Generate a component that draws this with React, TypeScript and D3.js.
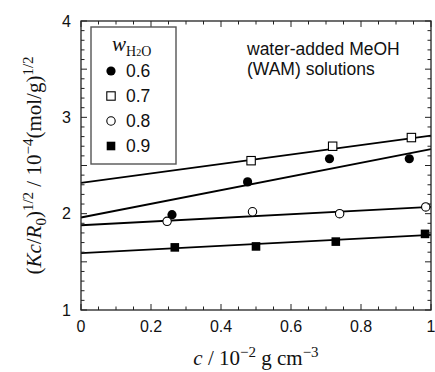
import * as d3 from 'd3'

// (Kc/R0)^1/2 vs c, for each water fraction w_H2O
const seriesNames = ['0.6', '0.7', '0.8', '0.9']
const markerKinds = ['filledCircle', 'openSquare', 'openCircle', 'filledSquare']

const cW06 = [0.26, 0.476, 0.71, 0.938]
const yW06 = [1.99, 2.33, 2.57, 2.57]
const cW07 = [0.486, 0.719, 0.944]
const yW07 = [2.55, 2.70, 2.79]
const cW08 = [0.246, 0.49, 0.739, 0.985]
const yW08 = [1.92, 2.02, 2.0, 2.07]
const cW09 = [0.268, 0.5, 0.728, 0.983]
const yW09 = [1.65, 1.66, 1.71, 1.79]

// fitted straight lines: value at c = 0 and at c = 1
const fitAt0 = [1.96, 2.32, 1.88, 1.59]
const fitAt1 = [2.67, 2.81, 2.07, 1.78]

const xTickLabels = ['0', '0.2', '0.4', '0.6', '0.8', '1']
const yTickLabels = ['1', '2', '3', '4']

const W = 435
const H = 372
const margin = { top: 21, right: 4, bottom: 62, left: 81 }
const innerW = W - margin.left - margin.right
const innerH = H - margin.top - margin.bottom

const SANS = 'Liberation Sans, Arial, sans-serif'
const SERIF = 'Liberation Serif, Times New Roman, serif'

function Marker({ kind, x, y }: { kind: string; x: number; y: number }) {
  if (kind === 'filledCircle') return <circle cx={x} cy={y} r={4.6} fill="#000" />
  if (kind === 'openCircle') return <circle cx={x} cy={y} r={4.2} fill="#fff" stroke="#000" strokeWidth={1.1} />
  if (kind === 'openSquare') return <rect x={x - 4.2} y={y - 4.2} width={8.4} height={8.4} fill="#fff" stroke="#000" strokeWidth={1.1} />
  return <rect x={x - 4.3} y={y - 4.3} width={8.6} height={8.6} fill="#000" />
}

export default function App() {
  const x = d3.scaleLinear().domain([0, 1]).range([0, innerW])
  const y = d3.scaleLinear().domain([1, 4]).range([innerH, 0])

  const xs = [cW06, cW07, cW08, cW09]
  const ys = [yW06, yW07, yW08, yW09]

  const xMinor = x.ticks(20)
  const xMajor = x.ticks(5)
  const yMinor = y.ticks(30)
  const yMajor = y.ticks(3)

  const line = d3.line<[number, number]>()
    .x((d) => x(d[0]))
    .y((d) => y(d[1]))

  const isMajorX = (v: number) => xMajor.some((m) => Math.abs(m - v) < 1e-9)
  const isMajorY = (v: number) => Math.abs(v * 2 - Math.round(v * 2)) < 1e-9

  return (
    <svg width={W} height={H} style={{ position: 'absolute', left: 0, top: 0, background: '#fff' }}>
      <g transform={`translate(${margin.left},${margin.top})`}>
        {/* fitted lines */}
        {seriesNames.map((s, i) => (
          <path key={'fit' + s} d={line([[0, fitAt0[i]], [1, fitAt1[i]]]) || ''} stroke="#000" strokeWidth={1.9} fill="none" />
        ))}

        {/* data points */}
        {seriesNames.map((s, i) => (
          <g key={'pts' + s}>
            {xs[i].map((c, j) => (
              <Marker key={j} kind={markerKinds[i]} x={x(c)} y={y(ys[i][j])} />
            ))}
          </g>
        ))}

        {/* frame */}
        <rect x={0} y={0} width={innerW} height={innerH} fill="none" stroke="#222" strokeWidth={1.3} />

        {/* ticks, all pointing inwards */}
        {xMinor.map((v) => {
          const len = isMajorX(v) ? 6 : 3.5
          return (
            <g key={'xt' + v} stroke="#222" strokeWidth={1}>
              <line x1={x(v)} x2={x(v)} y1={innerH} y2={innerH - len} />
              <line x1={x(v)} x2={x(v)} y1={0} y2={len} />
            </g>
          )
        })}
        {yMinor.map((v) => {
          const len = isMajorY(v) ? 6 : 3.5
          return (
            <g key={'yt' + v} stroke="#222" strokeWidth={1}>
              <line x1={0} x2={len} y1={y(v)} y2={y(v)} />
              <line x1={innerW} x2={innerW - len} y1={y(v)} y2={y(v)} />
            </g>
          )
        })}

        {/* tick labels */}
        {xMajor.map((v, i) => (
          <text key={'xl' + v} x={x(v)} y={innerH + 22} textAnchor="middle" fontFamily={SANS} fontSize={16} fill="#111">
            {xTickLabels[i]}
          </text>
        ))}
        {yMajor.map((v, i) => (
          <text key={'yl' + v} x={-10} y={y(v)} dy="0.36em" textAnchor="end" fontFamily={SANS} fontSize={16} fill="#111">
            {yTickLabels[i]}
          </text>
        ))}

        {/* legend */}
        <rect x={10} y={6} width={85} height={137} fill="#fff" stroke="#555" strokeWidth={1.4} />
        <text x={31} y={30} fontFamily={SERIF} fontSize={21} fill="#111">
          <tspan fontStyle="italic">w</tspan>
          <tspan dy={5} fontSize={14}>H</tspan>
          <tspan fontSize={10}>2</tspan>
          <tspan fontSize={14}>O</tspan>
        </text>
        {seriesNames.map((s, i) => (
          <g key={'lg' + s} transform={`translate(30,${50 + i * 25})`}>
            <Marker kind={markerKinds[i]} x={0} y={0} />
            <text x={15} dy="0.36em" fontFamily={SANS} fontSize={17.5} fill="#111">{s}</text>
          </g>
        ))}

        {/* annotation */}
        <text x={166} y={34} fontFamily={SANS} fontSize={17.5} fill="#111">water-added MeOH</text>
        <text x={166} y={54} fontFamily={SANS} fontSize={17.5} fill="#111">(WAM) solutions</text>

        {/* axis titles */}
        <text x={innerW / 2} y={innerH + 55} textAnchor="middle" fontFamily={SERIF} fontSize={21} fill="#111">
          <tspan fontStyle="italic">c</tspan>
          <tspan> / 10</tspan>
          <tspan dy={-8} fontSize={15}>−2</tspan>
          <tspan dy={8}> g cm</tspan>
          <tspan dy={-8} fontSize={15}>−3</tspan>
        </text>
        <text transform={`translate(-40,${innerH / 2}) rotate(-90)`} textAnchor="middle" fontFamily={SERIF} fontSize={21} fill="#111">
          <tspan>(</tspan>
          <tspan fontStyle="italic">Kc</tspan>
          <tspan>/</tspan>
          <tspan fontStyle="italic">R</tspan>
          <tspan dy={5} fontSize={15}>0</tspan>
          <tspan dy={-5}>)</tspan>
          <tspan dy={-8} fontSize={15}>1/2</tspan>
          <tspan dy={8}> / 10</tspan>
          <tspan dy={-8} fontSize={15}>−4</tspan>
          <tspan dy={8}>(mol/g)</tspan>
          <tspan dy={-8} fontSize={15}>1/2</tspan>
        </text>
      </g>
    </svg>
  )
}
